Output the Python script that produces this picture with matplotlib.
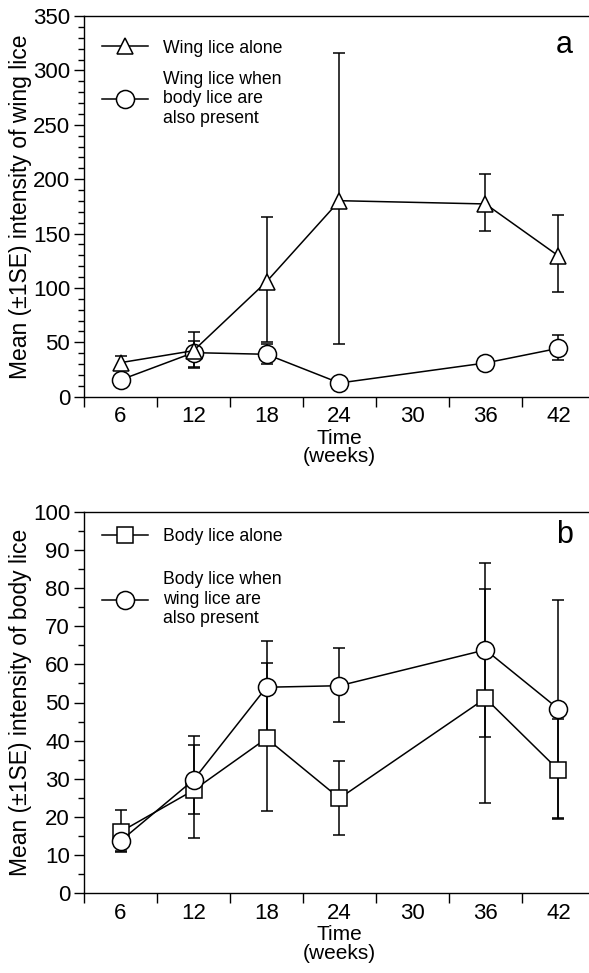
import matplotlib
matplotlib.use("Agg")
import matplotlib.pyplot as plt
from matplotlib.lines import Line2D
from matplotlib.ticker import MultipleLocator
import numpy as np

plt.rcParams['font.family'] = ['Liberation Sans', 'DejaVu Sans']

# time categories on the x axis (30 weeks has no samples)
week_labels = ['6', '12', '18', '24', '30', '36', '42']
sample_weeks = ['6', '12', '18', '24', '36', '42']

# panel a - wing lice
wing_alone = [31.3, 42.3, 105.7, 180.2, 177.2, 129.4]
wing_alone_hi = [37.4, 59.8, 165.0, 316.0, 204.7, 167.0]
wing_alone_lo = [25.0, 26.4, 50.3, 48.3, 152.6, 96.3]

wing_with_body = [15.4, 40.5, 39.0, 12.6, 31.0, 44.5]
wing_with_body_hi = [19.0, 51.5, 48.0, 15.0, 33.0, 57.0]
wing_with_body_lo = [12.0, 27.5, 30.0, 10.0, 29.0, 34.0]

# panel b - body lice
body_alone = [16.1, 27.0, 40.6, 24.9, 51.1, 32.3]
body_alone_hi = [21.7, 41.3, 60.3, 34.7, 79.7, 45.7]
body_alone_lo = [10.8, 14.4, 21.6, 15.3, 23.6, 19.5]

body_with_wing = [13.7, 29.7, 54.0, 54.4, 63.8, 48.3]
body_with_wing_hi = [17.2, 38.9, 66.1, 64.2, 86.5, 76.9]
body_with_wing_lo = [11.0, 20.8, 42.2, 45.0, 40.9, 19.8]

xpos = np.array([week_labels.index(w) for w in sample_weeks])

W, H = 589, 973
fig = plt.figure(figsize=(W / 100, H / 100), dpi=100)

ax_a = fig.add_axes([84 / W, (H - 396.7) / H, 511 / W, (396.7 - 16) / H])
ax_b = fig.add_axes([84 / W, (H - 893.3) / H, 511 / W, (893.3 - 511.7) / H])


def draw_series(ax, y, lo, hi, marker, ms):
    y = np.array(y)
    err = [y - np.array(lo), np.array(hi) - y]
    ax.errorbar(xpos, y, yerr=err, fmt='none', ecolor='black',
                elinewidth=1.1, capsize=4.5, capthick=1.1, zorder=2)
    ax.plot(xpos, y, color='black', lw=1.1, marker=marker, ms=ms,
            mfc='white', mec='black', mew=1.1, zorder=3)


def style_axis(ax, ymax, major, minor):
    ax.set_xlim(-0.5, 6.5)
    ax.set_ylim(0, ymax)
    ax.set_xticks(range(len(week_labels)))
    ax.set_xticklabels(week_labels)
    ax.set_xticks(np.arange(-0.5, 7, 1), minor=True)
    ax.tick_params(axis='x', which='major', length=0, pad=7, labelsize=16)
    ax.tick_params(axis='x', which='minor', length=7, width=1, direction='out')
    ax.yaxis.set_major_locator(MultipleLocator(major))
    ax.yaxis.set_minor_locator(MultipleLocator(minor))
    ax.tick_params(axis='y', which='major', length=7, width=1, pad=3, labelsize=16)
    ax.tick_params(axis='y', which='minor', length=4, width=1)
    ax.spines['right'].set_visible(False)
    for s in ['left', 'bottom', 'top']:
        ax.spines[s].set_linewidth(1)
    ax.set_xlabel('Time\n(weeks)', fontsize=15, linespacing=0.95, labelpad=1)
    ax.yaxis.set_label_coords(-0.102, 0.5)


def add_legend(ax, markers, labels, spacing, top):
    handles = [Line2D([], [], color='black', lw=1.1, marker=m, ms=s,
                      mfc='white', mec='black', mew=1.1) for m, s in markers]
    ax.legend(handles, labels, loc='upper left', bbox_to_anchor=(0.008, top),
              frameon=False, fontsize=12.7, handlelength=2.6, handletextpad=0.85,
              labelspacing=spacing, borderpad=0.3)


# panel a
draw_series(ax_a, wing_with_body, wing_with_body_lo, wing_with_body_hi, 'o', 13)
draw_series(ax_a, wing_alone, wing_alone_lo, wing_alone_hi, '^', 12)
style_axis(ax_a, 350, 50, 10)
ax_a.set_ylabel('Mean (\u00b11SE) intensity of wing lice', fontsize=16.5)
ax_a.text(0.94, 0.925, 'a', transform=ax_a.transAxes, fontsize=22,
          ha='center', va='center')
add_legend(ax_a, [('^', 12), ('o', 13)],
           ['Wing lice alone', 'Wing lice when\nbody lice are\nalso present'], 0.8, 0.975)

# panel b
draw_series(ax_b, body_alone, body_alone_lo, body_alone_hi, 's', 12)
draw_series(ax_b, body_with_wing, body_with_wing_lo, body_with_wing_hi, 'o', 13)
style_axis(ax_b, 100, 10, 5)
ax_b.set_ylabel('Mean (\u00b11SE) intensity of body lice', fontsize=16.5)
ax_b.text(0.94, 0.94, 'b', transform=ax_b.transAxes, fontsize=22,
          ha='center', va='center')
add_legend(ax_b, [('s', 12), ('o', 13)],
           ['Body lice alone', 'Body lice when\nwing lice are\nalso present'], 1.5, 0.995)

fig.savefig('out.png', dpi=100)
